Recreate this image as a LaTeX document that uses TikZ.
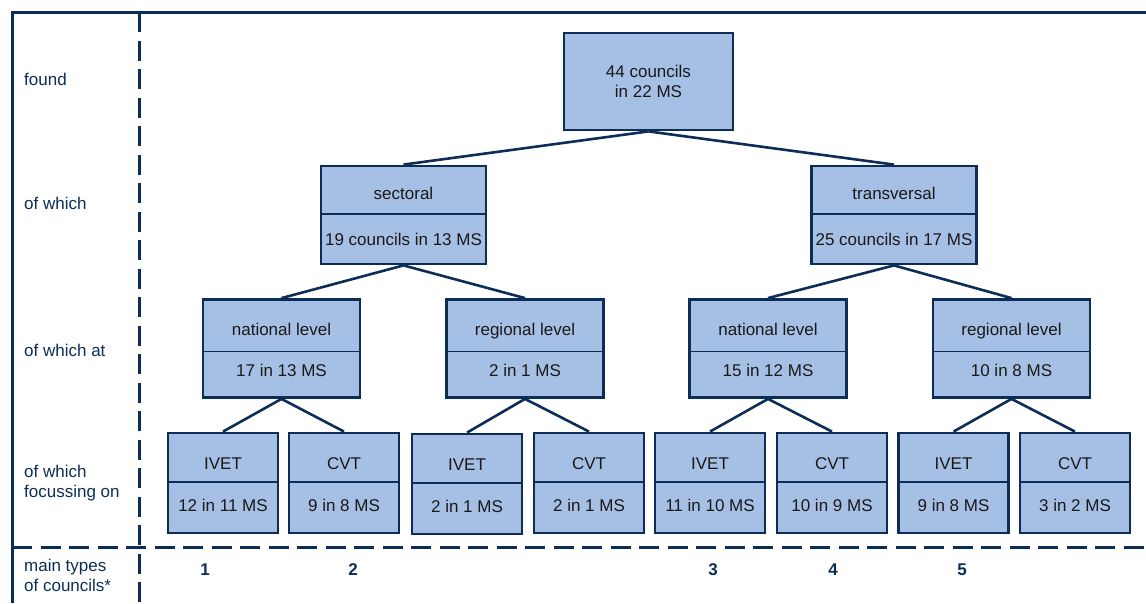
\documentclass[tikz,border=0pt]{standalone}
\usepackage{fontspec}
\setmainfont{Liberation Sans}
\usetikzlibrary{positioning,fit}
\definecolor{navy}{HTML}{0C2D57}
\definecolor{boxblue}{HTML}{A6BFE5}
\tikzset{
  part/.style={draw=navy,fill=boxblue,line width=1.8pt,outer sep=0pt,inner sep=2pt,align=center,text=black!90,font=\fontsize{17}{20}\selectfont,text height=12pt,text depth=0pt},
  topbox/.style={draw=navy,fill=boxblue,line width=2.8pt,align=center,text=black!90,font=\fontsize{17}{20}\selectfont,minimum width=169pt,minimum height=97pt},
  headtwo/.style={part,minimum width=165pt,minimum height=48pt,text height=18pt},
  numtwo/.style={part,minimum width=165pt,minimum height=50pt},
  headthree/.style={part,minimum width=157pt,minimum height=52pt,text height=20pt},
  numthree/.style={part,minimum width=157pt,minimum height=46pt,text depth=8pt},
  headfour/.style={part,minimum width=110pt,minimum height=49pt,text height=24pt},
  numfour/.style={part,minimum width=110pt,minimum height=51pt,text depth=5pt},
  outline/.style={draw=navy,line width=2.8pt,inner sep=0pt},
  link/.style={draw=navy,line width=2.6pt},
  rowlab/.style={anchor=west,align=left,inner sep=0pt,text=navy,font=\fontsize{17}{20}\selectfont},
  typenum/.style={inner sep=0pt,text=navy,font=\fontsize{17}{20}\selectfont\bfseries},
  solidrule/.style={draw=navy,line width=3pt},
  dashrule/.style={draw=navy,line width=3pt,dash pattern=on 20pt off 8.5pt}
}

\begin{document}
\begin{tikzpicture}[x=1pt,y=-1pt]
\useasboundingbox (0,0) rectangle (1146,603);

% table lines
\draw[solidrule] (1146,12) -- (12,12) -- (12,603);
\draw[dashrule] (139,12) -- (139,603);
\draw[dashrule] (12,547) -- (1146,547);

% row labels
\node[rowlab] (found) at (24,79) {found};
\node[rowlab] (which) at (24,203) {of which};
\node[rowlab] (whichat) at (24,350) {of which at};
\node[rowlab] (focus) at (24,483) {of which\\focussing on};
\node[rowlab] (types) at (24,575) {main types\\of councils*};

% top
\node[topbox] (all) at (648.5,81.5) {44 councils\\in 22 MS};

% second level
\node[headtwo] (sec) at (403.5,190) {sectoral};
\node[numtwo,below=0pt of sec] (sec-n) {19 councils in 13 MS};
\node[outline,fit=(sec)(sec-n)] (sec-box) {};
\node[headtwo] (tra) at (894,190) {transversal};
\node[numtwo,below=0pt of tra] (tra-n) {25 councils in 17 MS};
\node[outline,fit=(tra)(tra-n)] (tra-box) {};

% third level
\node[headthree] (secnat) at (281.5,325.5) {national level};
\node[numthree,below=0pt of secnat] (secnat-n) {17 in 13 MS};
\node[outline,fit=(secnat)(secnat-n)] (secnat-box) {};
\node[headthree] (secreg) at (525,325.5) {regional level};
\node[numthree,below=0pt of secreg] (secreg-n) {2 in 1 MS};
\node[outline,fit=(secreg)(secreg-n)] (secreg-box) {};
\node[headthree] (tranat) at (768,325.5) {national level};
\node[numthree,below=0pt of tranat] (tranat-n) {15 in 12 MS};
\node[outline,fit=(tranat)(tranat-n)] (tranat-box) {};
\node[headthree] (trareg) at (1011.5,325.5) {regional level};
\node[numthree,below=0pt of trareg] (trareg-n) {10 in 8 MS};
\node[outline,fit=(trareg)(trareg-n)] (trareg-box) {};

% fourth level
\node[headfour] (sn-ivet) at (223,457.5) {IVET};
\node[numfour,below=0pt of sn-ivet] (sn-ivet-n) {12 in 11 MS};
\node[outline,fit=(sn-ivet)(sn-ivet-n)] (sn-ivet-box) {};
\node[headfour] (sn-cvt) at (344,457.5) {CVT};
\node[numfour,below=0pt of sn-cvt] (sn-cvt-n) {9 in 8 MS};
\node[outline,fit=(sn-cvt)(sn-cvt-n)] (sn-cvt-box) {};
\node[headfour] (sr-ivet) at (467,458.5) {IVET};
\node[numfour,below=0pt of sr-ivet] (sr-ivet-n) {2 in 1 MS};
\node[outline,fit=(sr-ivet)(sr-ivet-n)] (sr-ivet-box) {};
\node[headfour] (sr-cvt) at (589,457.5) {CVT};
\node[numfour,below=0pt of sr-cvt] (sr-cvt-n) {2 in 1 MS};
\node[outline,fit=(sr-cvt)(sr-cvt-n)] (sr-cvt-box) {};
\node[headfour] (tn-ivet) at (710,457.5) {IVET};
\node[numfour,below=0pt of tn-ivet] (tn-ivet-n) {11 in 10 MS};
\node[outline,fit=(tn-ivet)(tn-ivet-n)] (tn-ivet-box) {};
\node[headfour] (tn-cvt) at (832,457.5) {CVT};
\node[numfour,below=0pt of tn-cvt] (tn-cvt-n) {10 in 9 MS};
\node[outline,fit=(tn-cvt)(tn-cvt-n)] (tn-cvt-box) {};
\node[headfour] (tr-ivet) at (953.5,457.5) {IVET};
\node[numfour,below=0pt of tr-ivet] (tr-ivet-n) {9 in 8 MS};
\node[outline,fit=(tr-ivet)(tr-ivet-n)] (tr-ivet-box) {};
\node[headfour] (tr-cvt) at (1075,457.5) {CVT};
\node[numfour,below=0pt of tr-cvt] (tr-cvt-n) {3 in 2 MS};
\node[outline,fit=(tr-cvt)(tr-cvt-n)] (tr-cvt-box) {};

% connectors
\draw[link] (all.south) -- (sec-box.north);
\draw[link] (all.south) -- (tra-box.north);
\draw[link] (sec-box.south) -- (secnat-box.north);
\draw[link] (sec-box.south) -- (secreg-box.north);
\draw[link] (tra-box.south) -- (tranat-box.north);
\draw[link] (tra-box.south) -- (trareg-box.north);
\draw[link] (secnat-box.south) -- (sn-ivet-box.north);
\draw[link] (secnat-box.south) -- (sn-cvt-box.north);
\draw[link] (secreg-box.south) -- (sr-ivet-box.north);
\draw[link] (secreg-box.south) -- (sr-cvt-box.north);
\draw[link] (tranat-box.south) -- (tn-ivet-box.north);
\draw[link] (tranat-box.south) -- (tn-cvt-box.north);
\draw[link] (trareg-box.south) -- (tr-ivet-box.north);
\draw[link] (trareg-box.south) -- (tr-cvt-box.north);

% main types
\node[typenum] (t1) at (205,570) {1};
\node[typenum] (t2) at (353,570) {2};
\node[typenum] (t3) at (713,570) {3};
\node[typenum] (t4) at (833,570) {4};
\node[typenum] (t5) at (962,570) {5};

\end{tikzpicture}
\end{document}
